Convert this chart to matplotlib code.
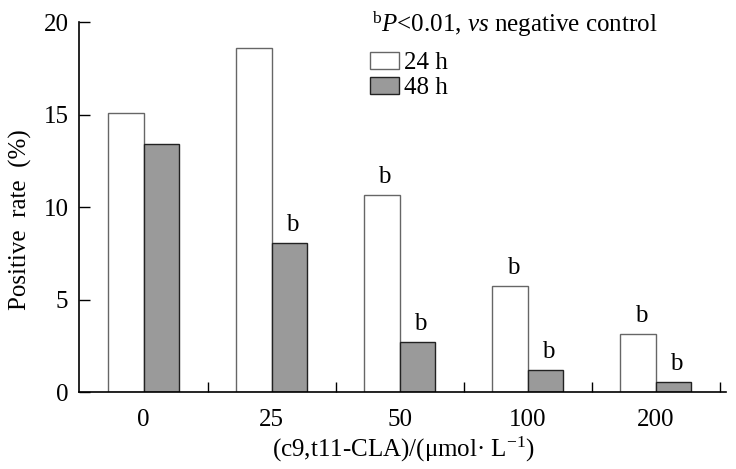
import matplotlib
matplotlib.use("Agg")
import matplotlib.pyplot as plt
from matplotlib.patches import Patch
import numpy as np

categories = ["0", "25", "50", "100", "200"]
rate_24h = [15.1, 18.6, 10.65, 5.75, 3.15]
rate_48h = [13.4, 8.05, 2.7, 1.2, 0.55]
sig_24h = ["", "", "b", "b", "b"]
sig_48h = ["", "b", "b", "b", "b"]
series_labels = ["24 h", "48 h"]
yticks = [0, 5, 10, 15, 20]

plt.rcParams['font.family'] = ['Liberation Serif', 'DejaVu Serif']
plt.rcParams['mathtext.fontset'] = 'custom'
plt.rcParams['mathtext.rm'] = 'Liberation Serif'
plt.rcParams['mathtext.it'] = 'Liberation Serif:italic'
plt.rcParams['mathtext.bf'] = 'Liberation Serif:bold'

fig = plt.figure(figsize=(7.36, 4.69), dpi=100)
ax = fig.add_axes([0.108, 0.1635, 0.879, 0.789])

x = np.arange(len(categories))
w = 0.277
gray = "#9a9a9a"
ax.bar(x - w/2, rate_24h, w, color="white", edgecolor="#666666", linewidth=1.0)
ax.bar(x + w/2, rate_48h, w, color=gray, edgecolor="#222222", linewidth=1.0)

fs = 18
for xi, v, s in zip(x - w/2, rate_24h, sig_24h):
    if s:
        ax.annotate(s, (xi, v), xytext=(2, 5), textcoords="offset points",
                    ha="center", va="bottom", fontsize=fs)
for xi, v, s in zip(x + w/2, rate_48h, sig_48h):
    if s:
        ax.annotate(s, (xi, v), xytext=(2, 5), textcoords="offset points",
                    ha="center", va="bottom", fontsize=fs)

ax.set_xlim(-0.5, 4.55)
ax.set_ylim(0, 20)
ax.set_yticks(yticks)
ax.set_yticklabels([str(t) for t in yticks], fontsize=fs)
ax.set_xticks(x)
ax.set_xticklabels(categories, fontsize=fs)
ax.tick_params(axis='x', length=0, pad=12)
ax.set_xticks(np.arange(len(categories)) + 0.5, minor=True)
ax.tick_params(axis='x', which='minor', direction='in', length=7, width=1, color='black')
ax.tick_params(axis='y', direction='in', length=8, width=1, pad=8)
for sp in ['top', 'right']:
    ax.spines[sp].set_visible(False)
for sp in ['left', 'bottom']:
    ax.spines[sp].set_linewidth(1.2)
    ax.spines[sp].set_color('black')

ax.set_ylabel("Positive  rate  (%)", fontsize=18)
ax.yaxis.set_label_coords(-0.074, 0.466)
ax.set_xlabel(r"(c9,t11-CLA)/(μmol· L$^{\mathregular{-1}}$)", fontsize=fs, labelpad=3)

ax.text(0.452, 0.9746, r"$^{\mathrm{b}}$$\it{P}$<0.01, $\it{vs}$ negative control",
        transform=ax.transAxes, ha="left", va="baseline", fontsize=fs)

handles = [Patch(facecolor="white", edgecolor="#666666", linewidth=1.0),
           Patch(facecolor=gray, edgecolor="#222222", linewidth=1.0)]
ax.legend(handles, series_labels, loc="upper left", bbox_to_anchor=(0.449, 0.92),
          frameon=False, fontsize=fs, handlelength=1.15, handleheight=0.65,
          handletextpad=0.2, labelspacing=0.12, borderaxespad=0, borderpad=0)

fig.savefig("out.png", dpi=100)
